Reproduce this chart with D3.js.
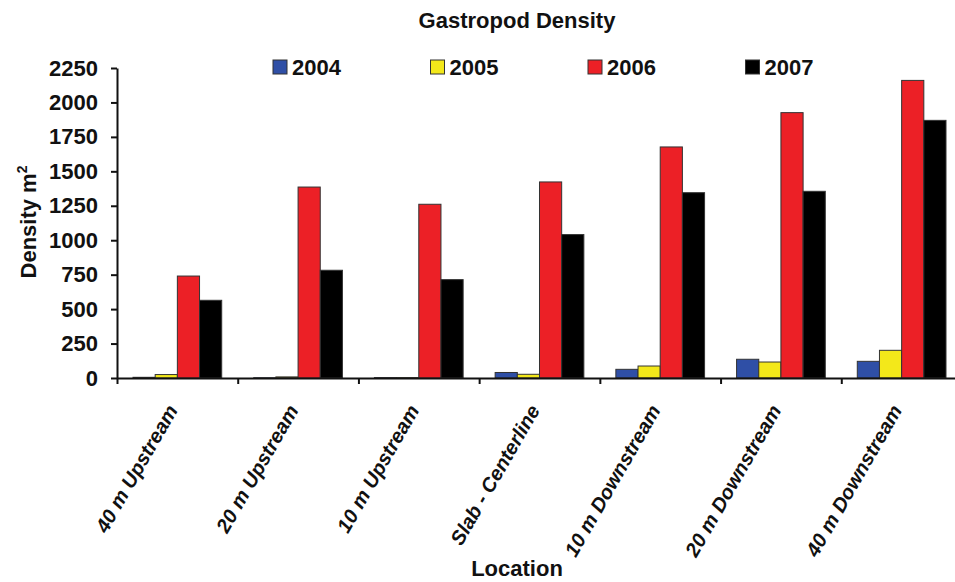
<!DOCTYPE html>
<html>
<head>
<meta charset="utf-8">
<script src="https://cdn.jsdelivr.net/npm/d3@7"></script>
<style>
  body { margin: 0; background: #fff; }
  text { font-family: "Liberation Sans", Arial, sans-serif; font-weight: bold; fill: #111; }
</style>
</head>
<body>
<svg width="955" height="582"></svg>
<script>
const locations = ['40 m Upstream', '20 m Upstream', '10 m Upstream', 'Slab - Centerline',
  '10 m Downstream', '20 m Downstream', '40 m Downstream'];
const years = ['2004', '2005', '2006', '2007'];
const d2004 = [5, 2, 3, 40, 63, 136, 121];
const d2005 = [25, 8, 3, 27, 87, 116, 201];
const d2006 = [740, 1386, 1261, 1423, 1677, 1926, 2160];
const d2007 = [564, 782, 714, 1041, 1345, 1355, 1870];
const yTicks = [0, 250, 500, 750, 1000, 1250, 1500, 1750, 2000, 2250];
const colors = ['#2f4fa6', '#f3e81a', '#ec2026', '#000000'];

const series = [d2004, d2005, d2006, d2007];
const data = locations.map((loc, i) => ({
  loc, vals: years.map((yr, j) => ({ yr, v: series[j][i], c: colors[j] }))
}));

const svg = d3.select('svg');
const plotL = 117, plotR = 962, plotT = 68, plotB = 378;

const x0 = d3.scaleBand().domain(locations).range([plotL, plotR]).padding(0);
const x1 = d3.scaleBand().domain(years).range([16, x0.bandwidth() - 16]).padding(0);
const y = d3.scaleLinear().domain([0, 2250]).range([plotB, plotT]);

// title
svg.append('text')
  .attr('x', 517).attr('y', 28)
  .attr('text-anchor', 'middle')
  .style('font-size', '22px')
  .text('Gastropod Density');

// bars
const g = svg.append('g');
g.selectAll('g.grp')
  .data(data)
  .enter().append('g')
  .attr('class', 'grp')
  .attr('transform', d => `translate(${x0(d.loc)},0)`)
  .selectAll('rect')
  .data(d => d.vals)
  .enter().append('rect')
  .attr('x', d => x1(d.yr))
  .attr('y', d => y(d.v))
  .attr('width', x1.bandwidth())
  .attr('height', d => plotB - y(d.v))
  .attr('fill', d => d.c)
  .attr('stroke', '#333')
  .attr('stroke-width', 1);

// y axis
const yAxis = svg.append('g')
  .attr('transform', `translate(${plotL},0)`)
  .call(d3.axisLeft(y).tickValues(yTicks).tickFormat(d3.format('d'))
    .tickSize(6).tickSizeOuter(0).tickPadding(13));
yAxis.select('.domain').attr('stroke', '#111').attr('stroke-width', 2);
yAxis.selectAll('.tick line').attr('stroke', '#111').attr('stroke-width', 2);
yAxis.selectAll('.tick text')
  .style('font-size', '22px').style('font-family', '"Liberation Sans", Arial, sans-serif')
  .style('font-weight', 'bold').attr('fill', '#111');

// x axis (ticks at category boundaries)
const xb = d3.scaleLinear().domain([0, locations.length]).range([plotL, plotR]);
const xAxis = svg.append('g')
  .attr('transform', `translate(0,${plotB})`)
  .call(d3.axisBottom(xb).tickValues(d3.range(locations.length + 1)).tickFormat('').tickSize(6).tickSizeOuter(0));
xAxis.select('.domain').attr('stroke', '#111').attr('stroke-width', 2);
xAxis.selectAll('.tick line').attr('stroke', '#111').attr('stroke-width', 2);

// category labels
svg.append('g').selectAll('text')
  .data(locations)
  .enter().append('text')
  .attr('transform', d => `translate(${x0(d) + x0.bandwidth() / 2 + 1},${plotB + 32}) rotate(-60)`)
  .attr('text-anchor', 'end')
  .style('font-size', '20px')
  .style('font-style', 'italic')
  .text(d => d);

// axis titles
svg.append('text')
  .attr('x', 517).attr('y', 576)
  .attr('text-anchor', 'middle')
  .style('font-size', '22px')
  .text('Location');

const yt = svg.append('text')
  .attr('transform', 'translate(36,222) rotate(-90)')
  .attr('text-anchor', 'middle')
  .style('font-size', '22px');
yt.append('tspan').text('Density m');
yt.append('tspan').attr('dy', -9).style('font-size', '14px').text('2');

// legend
const lg = svg.append('g').selectAll('g')
  .data(years)
  .enter().append('g')
  .attr('transform', (d, i) => `translate(${273 + i * 157.5},60)`);
lg.append('rect')
  .attr('width', 14).attr('height', 14)
  .attr('fill', (d, i) => colors[i])
  .attr('stroke', '#333').attr('stroke-width', 1);
lg.append('text')
  .attr('x', 19).attr('y', 15)
  .style('font-size', '22px')
  .text(d => d);
</script>
</body>
</html>
